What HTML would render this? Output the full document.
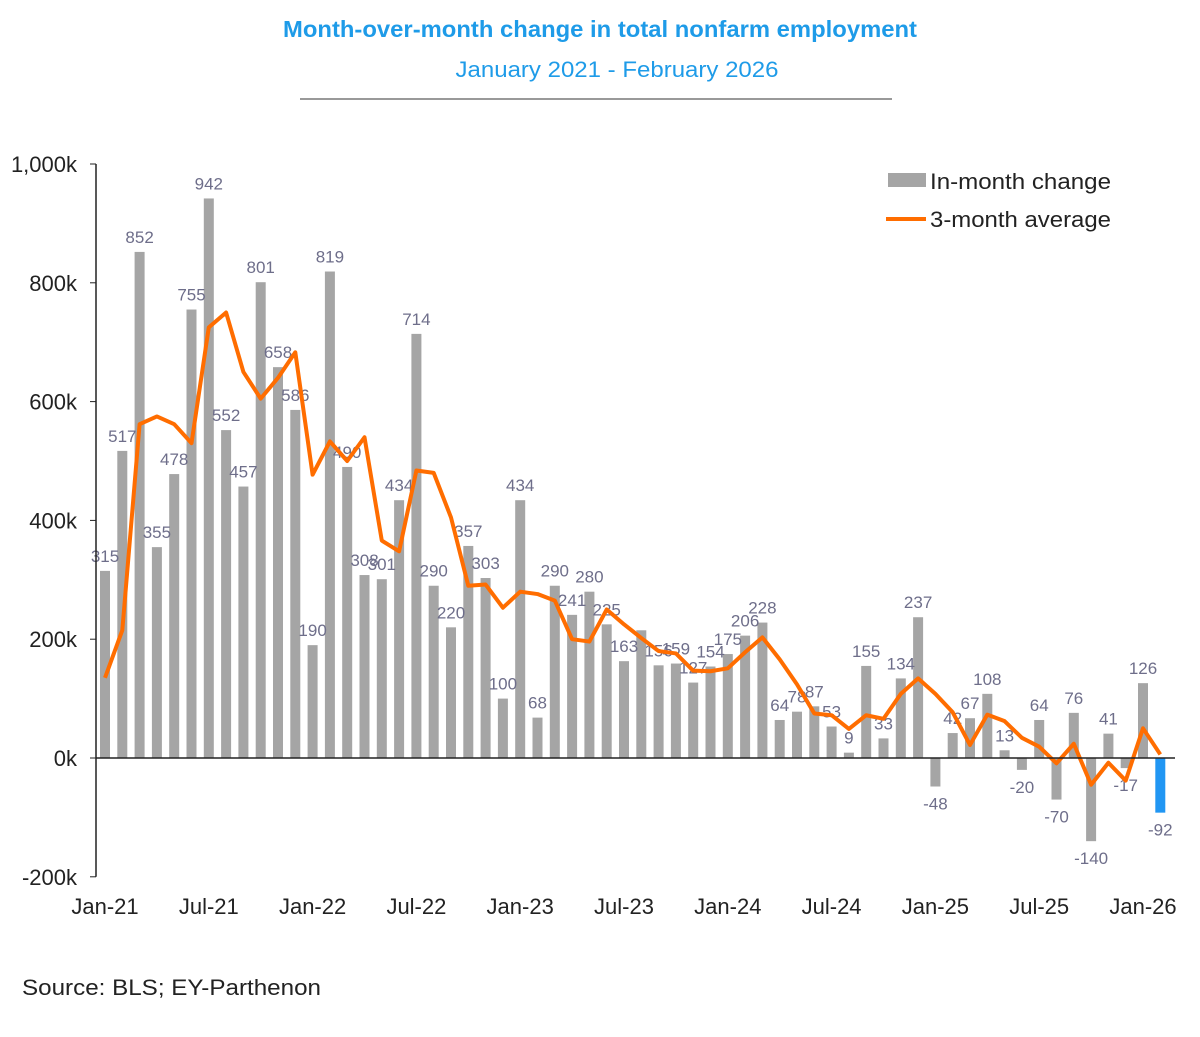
<!DOCTYPE html>
<html><head><meta charset="utf-8"><style>
body{margin:0;background:#fff;width:1200px;height:1032px;overflow:hidden;font-family:"Liberation Sans",Arial,sans-serif}
svg text{font-family:"Liberation Sans",Arial,sans-serif}
</style></head><body>
<svg id="chart" width="1200" height="1032">
<text x="600" y="37" text-anchor="middle" font-size="23.5" font-weight="bold" fill="#1e9be8" textLength="634" lengthAdjust="spacingAndGlyphs">Month-over-month change in total nonfarm employment</text>
<text x="617" y="77" text-anchor="middle" font-size="22" fill="#1e9be8" textLength="323" lengthAdjust="spacingAndGlyphs">January 2021 - February 2026</text>
<line x1="300" y1="99" x2="892" y2="99" stroke="#333" stroke-width="1"/>
<g id="grid"></g><g id="bars"></g><g id="labels"></g><g id="line"></g><g id="axes"></g>
<g>
<rect x="888" y="173" width="38" height="14" fill="#a5a5a5"/>
<text x="930" y="189" font-size="22" fill="#222" textLength="181" lengthAdjust="spacingAndGlyphs">In-month change</text>
<line x1="886" y1="219" x2="926" y2="219" stroke="#ff6d00" stroke-width="4"/>
<text x="930" y="227" font-size="22" fill="#222" textLength="181" lengthAdjust="spacingAndGlyphs">3-month average</text>
</g>
<text x="22" y="995" font-size="22" fill="#222" textLength="299" lengthAdjust="spacingAndGlyphs">Source: BLS; EY-Parthenon</text>
</svg>
<script>
const monthly=[315,517,852,355,478,755,942,552,457,801,658,586,
190,819,490,308,301,434,714,290,220,357,303,100,
434,68,290,241,280,225,163,215,156,159,127,154,
175,206,228,64,78,87,53,9,155,33,134,237,
-48,42,67,108,13,-20,64,-70,76,-140,41,-17,
126,-92];
const avg3=[135,215,562,575,562,530,725,750,650,605,640,683,
477,533,500,540,366,348,484,480,405,290,292,253,
280,276,265,200,196,250,225,202,180,176,147,146,
151,178,203,166,124,75,72,49,72,66,108,134,
108,77,22,73,62,34,19,-9,24,-45,-8,-38,
50,6];
const unlabeled=[31];
const yTicks=[-200,0,200,400,600,800,1000];
const yTickLabels=["-200k","0k","200k","400k","600k","800k","1,000k"];
const xTickIdx=[0,6,12,18,24,30,36,42,48,54,60];
const xTickLabels=["Jan-21","Jul-21","Jan-22","Jul-22","Jan-23","Jul-23","Jan-24","Jul-24","Jan-25","Jul-25","Jan-26"];
const NS="http://www.w3.org/2000/svg";
const y=v=>758-v*0.594;
const x=i=>105+i*17.3;
function mk(tag,attrs,parent,txt){const e=document.createElementNS(NS,tag);for(const k in attrs)e.setAttribute(k,attrs[k]);if(txt!==undefined)e.textContent=txt;document.getElementById(parent).appendChild(e);return e;}
monthly.forEach((v,i)=>{
 const b=mk('rect',{x:x(i)-5,y:Math.min(y(v),y(0)),width:10,height:Math.abs(y(v)-y(0)),fill:i===monthly.length-1?'#2196f3':'#a5a5a5'},'bars');
 
 
 if(unlabeled.includes(i))return;
 const t=mk('text',{x:x(i),y:v>=0?y(v)-9:y(v)+23,'text-anchor':'middle','font-size':'17',fill:'#6e6e8a'},'labels',String(v));
 
 
});
const pl=mk('polyline',{points:avg3.map((v,i)=>x(i)+','+y(v)).join(' '),fill:'none',stroke:'#ff6d00','stroke-width':4,'stroke-linejoin':'round'},'line');


const ax=mk('line',{x1:96,y1:y(1000),x2:96,y2:y(-200),stroke:'#222','stroke-width':1.5},'axes');


const zx=mk('line',{x1:96,y1:y(0),x2:1175,y2:y(0),stroke:'#222','stroke-width':1.5},'axes');


yTicks.forEach((v,k)=>{
 const tk=mk('line',{x1:90,y1:y(v),x2:96,y2:y(v),stroke:'#222'},'axes');
 
 
 const t=mk('text',{x:77,y:y(v)+8,'text-anchor':'end','font-size':'22',fill:'#222'},'axes',yTickLabels[k]);
 
 
});
xTickIdx.forEach((i,k)=>{
 const t=mk('text',{x:x(i),y:914,'text-anchor':'middle','font-size':'22',fill:'#222'},'axes',xTickLabels[k]);
 
 
});
</script>
</body></html>
